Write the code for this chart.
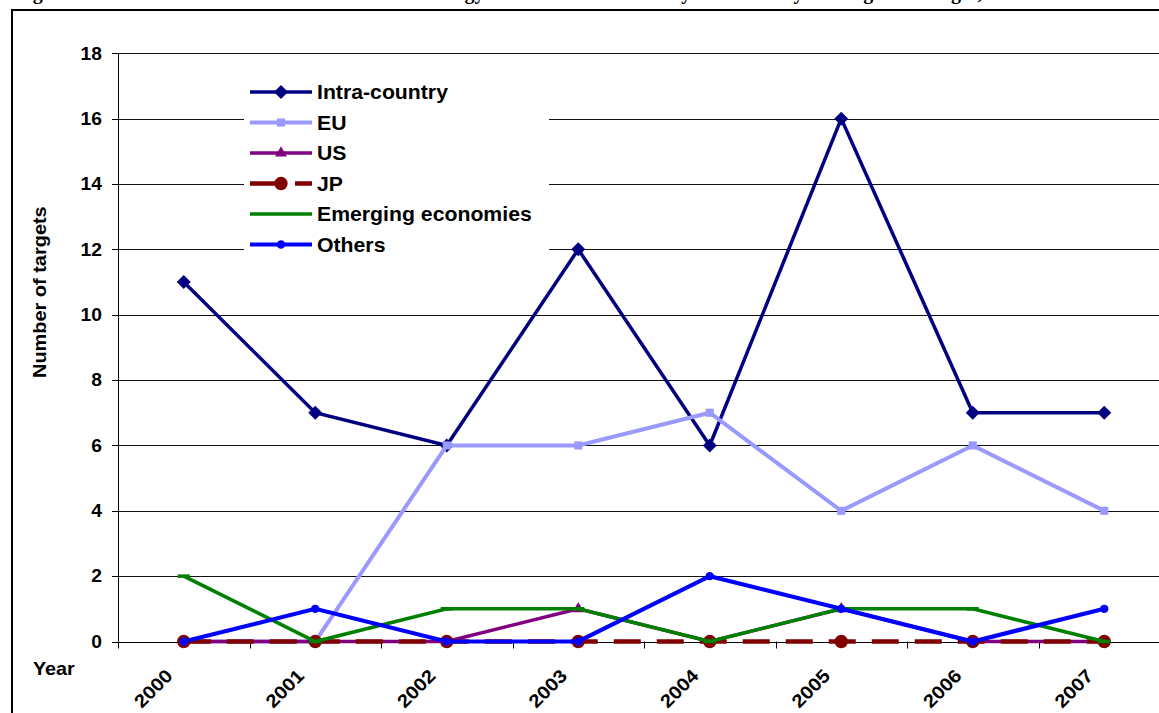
<!DOCTYPE html>
<html>
<head>
<meta charset="utf-8">
<script src="https://cdn.jsdelivr.net/npm/d3@7"></script>
<style>
  body { margin: 0; background: #fff; }
  svg { display: block; }
  text { font-family: Arial, 'Liberation Sans', sans-serif; font-weight: bold; fill: #000; }
</style>
</head>
<body>
<div id="chart"></div>
<script>
// data
const years = ['2000', '2001', '2002', '2003', '2004', '2005', '2006', '2007']
const intraCountry = [11, 7, 6, 12, 6, 16, 7, 7]
const eu = [0, 0, 6, 6, 7, 4, 6, 4]
const us = [0, 0, 0, 1, 0, 1, 0, 0]
const jp = [0, 0, 0, 0, 0, 0, 0, 0]
const emerging = [2, 0, 1, 1, 0, 1, 1, 0]
const others = [0, 1, 0, 0, 2, 1, 0, 1]
const yTicks = [0, 2, 4, 6, 8, 10, 12, 14, 16, 18]

const titleText = 'Figure 6: Number of climate and renewable technology transfer destinations by host country and region of origin, 2000-2007'

const width = 1159
const height = 713
const plot = { left: 118, right: 1170, top: 53.3, bottom: 641.5 }

const series = [
  { name: 'Intra-country', values: intraCountry, color: '#000080', width: 3.5, marker: 'diamond' },
  { name: 'EU', values: eu, color: '#9999ff', width: 4, marker: 'square' },
  { name: 'US', values: us, color: '#800080', width: 3.5, marker: 'triangle' },
  { name: 'JP', values: jp, color: '#800000', width: 4.5, marker: 'bigcircle', dash: '27,16' },
  { name: 'Emerging economies', values: emerging, color: '#008000', width: 3.6, marker: 'dash' },
  { name: 'Others', values: others, color: '#0000ff', width: 4.2, marker: 'circle' }
]

const svg = d3
  .select('#chart')
  .append('svg')
  .attr('width', width)
  .attr('height', height)

const x = d3
  .scaleBand()
  .domain(years)
  .range([plot.left, plot.right])

const y = d3
  .scaleLinear()
  .domain([0, 18])
  .range([plot.bottom, plot.top])

function label(g, px, py, str, size, opts) {
  opts = opts || {}
  return g
    .append('text')
    .attr('transform', `translate(${px},${py}) rotate(${opts.rotate || 0}) scale(${opts.sx || 1.1},1)`)
    .attr('text-anchor', opts.anchor || 'start')
    .style('font-size', size + 'px')
    .text(str)
}

// title line, cut by the top edge of the picture
svg
  .append('text')
  .attr('x', 15)
  .attr('y', -1.5)
  .style('font-family', "'Liberation Serif', 'Times New Roman', serif")
  .style('font-size', '20px')
  .text(titleText)

// outer frame
svg
  .append('rect')
  .attr('x', 12)
  .attr('y', 10)
  .attr('width', 1200)
  .attr('height', 760)
  .attr('fill', 'none')
  .attr('stroke', '#000')
  .attr('stroke-width', 2)

// gridlines
svg
  .append('g')
  .selectAll('line')
  .data(yTicks.filter(d => d > 0))
  .enter()
  .append('line')
  .attr('x1', plot.left)
  .attr('x2', plot.right)
  .attr('y1', d => Math.round(y(d)) + 0.5)
  .attr('y2', d => Math.round(y(d)) + 0.5)
  .attr('stroke', '#111')
  .attr('stroke-width', 1.2)

// y axis
const yAxis = svg.append('g')
yAxis
  .append('line')
  .attr('x1', plot.left + 0.5)
  .attr('x2', plot.left + 0.5)
  .attr('y1', y(18))
  .attr('y2', y(0))
  .attr('stroke', '#000')
yAxis
  .selectAll('.ytick')
  .data(yTicks)
  .enter()
  .append('line')
  .attr('x1', plot.left - 6)
  .attr('x2', plot.left)
  .attr('y1', d => Math.round(y(d)) + 0.5)
  .attr('y2', d => Math.round(y(d)) + 0.5)
  .attr('stroke', '#000')
yTicks.forEach(d => {
  label(yAxis, 102, y(d) + 6.3, d, 17.5, { anchor: 'end' })
})

// x axis
const xAxis = svg.append('g')
xAxis
  .append('line')
  .attr('x1', plot.left)
  .attr('x2', plot.right)
  .attr('y1', Math.round(y(0)) + 0.5)
  .attr('y2', Math.round(y(0)) + 0.5)
  .attr('stroke', '#000')
const bounds = years.map(d => x(d)).concat([plot.right])
xAxis
  .selectAll('.xtick')
  .data(bounds)
  .enter()
  .append('line')
  .attr('x1', d => Math.round(d) + 0.5)
  .attr('x2', d => Math.round(d) + 0.5)
  .attr('y1', y(0))
  .attr('y2', y(0) + 7)
  .attr('stroke', '#000')
years.forEach(d => {
  const cx = x(d) + x.bandwidth() / 2
  label(xAxis, cx - 10, 677, d, 18.5, { anchor: 'end', rotate: -45 })
})

label(svg, 33, 675, 'Year', 18)
label(svg, 46, 378, 'Number of targets', 19, { rotate: -90, sx: 1.05 })

// markers
function markerPath(type) {
  if (type === 'diamond') return d3.symbol(d3.symbolSquare, 98)()
  if (type === 'square') return d3.symbol(d3.symbolSquare, 66)()
  if (type === 'triangle') return d3.symbol(d3.symbolTriangle, 60)()
  if (type === 'bigcircle') return d3.symbol(d3.symbolCircle, 140)()
  if (type === 'circle') return d3.symbol(d3.symbolCircle, 55)()
  return 'M-6,0H6'
}

function drawMarker(g, s, px, py) {
  const p = g
    .append('path')
    .attr('d', markerPath(s.marker))
    .attr('transform', `translate(${px},${py})` + (s.marker === 'diamond' ? ' rotate(45)' : ''))
  if (s.marker === 'dash') {
    p.attr('fill', 'none').attr('stroke', s.color).attr('stroke-width', s.width)
  } else {
    p.attr('fill', s.color)
  }
}

const line = d3
  .line()
  .x((d, i) => x(years[i]) + x.bandwidth() / 2)
  .y(d => y(d))

const lines = svg.append('g')
series.forEach(s => {
  lines
    .append('path')
    .attr('d', line(s.values))
    .attr('fill', 'none')
    .attr('stroke', s.color)
    .attr('stroke-width', s.width)
    .attr('stroke-dasharray', s.dash || null)
    .attr('stroke-linejoin', 'miter')
  s.values.forEach((v, i) => {
    drawMarker(lines, s, x(years[i]) + x.bandwidth() / 2, y(v))
  })
})

// legend
const legend = svg.append('g')
legend
  .append('rect')
  .attr('x', 244)
  .attr('y', 76)
  .attr('width', 305)
  .attr('height', 184)
  .attr('fill', '#fff')

series.forEach((s, i) => {
  const ly = 92 + i * 30.5
  legend
    .append('line')
    .attr('x1', 250)
    .attr('x2', 312)
    .attr('y1', ly)
    .attr('y2', ly)
    .attr('stroke', s.color)
    .attr('stroke-width', s.width)
    .attr('stroke-dasharray', s.dash ? '30,15' : null)
  if (s.marker !== 'dash') drawMarker(legend, s, 281, ly)
  label(legend, 317, ly + 7, s.name, 19.5, { sx: 1.09 })
})
</script>
</body>
</html>
